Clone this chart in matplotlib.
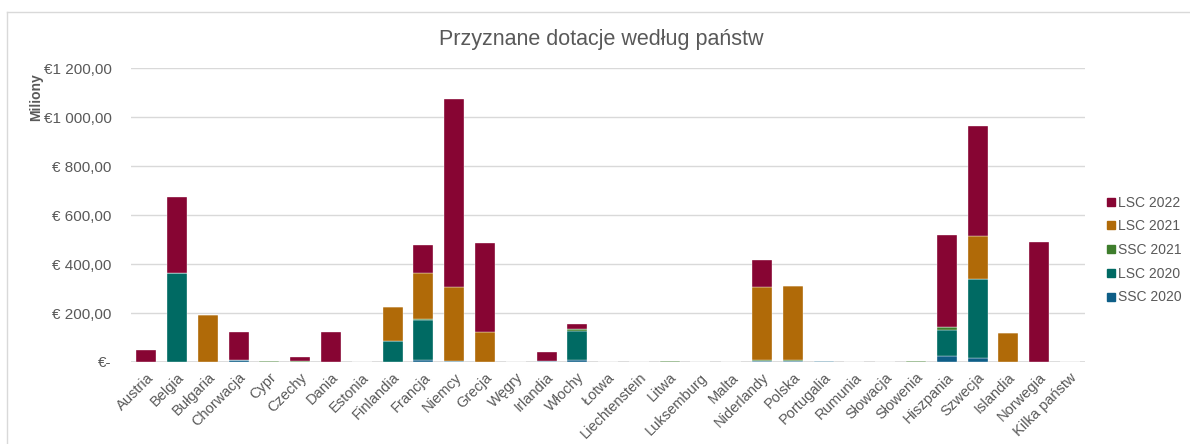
import matplotlib
matplotlib.use('Agg')
import matplotlib.pyplot as plt
from matplotlib.lines import Line2D
import numpy as np

plt.rcParams['font.family'] = ['Liberation Sans', 'DejaVu Sans']

countries = ['Austria', 'Belgia', 'Bułgaria', 'Chorwacja', 'Cypr', 'Czechy', 'Dania',
             'Estonia', 'Finlandia', 'Francja', 'Niemcy', 'Grecja', 'Węgry', 'Irlandia',
             'Włochy', 'Łotwa', 'Liechtenstein', 'Litwa', 'Luksemburg', 'Malta',
             'Niderlandy', 'Polska', 'Portugalia', 'Rumunia', 'Słowacja', 'Słowenia',
             'Hiszpania', 'Szwecja', 'Islandia', 'Norwegia', 'Kilka państw']

# mln EUR
ssc_2020 = [0, 0, 0, 10, 0, 0, 0, 0, 0, 8, 5, 0, 0, 4, 8, 0, 0, 0, 0, 0,
            4, 4, 6, 0, 0, 0, 24, 15, 0, 0, 0]
lsc_2020 = [0, 362, 0, 0, 0, 0, 0, 0, 86, 163, 0, 0, 0, 0, 118, 0, 0, 0, 0, 0,
            0, 0, 0, 0, 0, 0, 107, 324, 0, 0, 0]
ssc_2021 = [0, 0, 0, 0, 6, 5, 0, 0, 0, 3, 0, 0, 0, 0, 10, 0, 0, 6, 0, 0,
            5, 5, 0, 0, 0, 6, 12, 0, 0, 0, 0]
lsc_2021 = [0, 0, 190, 0, 0, 0, 0, 0, 138, 188, 300, 124, 0, 0, 0, 0, 0, 0, 0, 0,
            296, 301, 0, 0, 0, 0, 0, 175, 120, 0, 0]
lsc_2022 = [48, 310, 0, 114, 0, 14, 124, 0, 0, 114, 767, 362, 0, 38, 18, 0, 0, 0, 0, 0,
            110, 0, 0, 0, 0, 0, 376, 449, 0, 491, 0]

series = [('SSC 2020', ssc_2020, '#0E5E87'),
          ('LSC 2020', lsc_2020, '#006A63'),
          ('SSC 2021', ssc_2021, '#3E7D2C'),
          ('LSC 2021', lsc_2021, '#B06A08'),
          ('LSC 2022', lsc_2022, '#870533')]

fig = plt.figure(figsize=(11.9, 4.44), dpi=100)
ax = fig.add_axes([0.110, 0.1847, 0.802, 0.662])

x = np.arange(len(countries))
bottom = np.zeros(len(countries))
for name, vals, col in series:
    vals = np.array(vals, dtype=float)
    ax.bar(x, vals, 0.65, bottom=bottom, color=col, edgecolor='white',
           linewidth=0.25, label=name, zorder=3)
    bottom += vals

ax.set_xlim(-0.5, len(countries) - 0.5)
ax.set_ylim(0, 1200)
ticks = [0, 200, 400, 600, 800, 1000, 1200]
labels = ['€-', '€ 200,00', '€ 400,00', '€ 600,00', '€ 800,00', '€1 000,00', '€1 200,00']
ax.set_yticks(ticks)
ax.set_yticklabels(labels)
ax.yaxis.grid(True, color='#D9D9D9', linewidth=1, zorder=0)
for s in ax.spines.values():
    s.set_visible(False)
ax.axhline(0, color='#D9D9D9', linewidth=1.2, zorder=1)
ax.tick_params(axis='both', length=0, colors='#595959', labelsize=11)
ax.tick_params(axis='y', pad=14)
ax.set_xticks(x)
ax.set_xticklabels(countries, rotation=45, ha='right', rotation_mode='anchor')
ax.tick_params(axis='x', pad=6, labelsize=10.5)

fig.text(0.505, 0.912, 'Przyznane dotacje według państw', ha='center', va='center',
         fontsize=15.5, color='#595959')
fig.text(0.030, 0.782, 'Miliony', rotation=90, ha='center', va='center',
         fontsize=10, color='#595959', fontweight='bold')

handles = [Line2D([], [], marker='s', linestyle='', markersize=6, color=c)
           for _, _, c in series[::-1]]
names = [n for n, _, _ in series[::-1]]
fig.legend(handles, names, loc='center left', bbox_to_anchor=(0.917, 0.437),
           frameon=False, fontsize=10, labelcolor='#595959', handletextpad=0.05,
           labelspacing=0.7, handlelength=1.0)

# outer chart border
fig.add_artist(Line2D([7 / 1190, 1], [1 - 12 / 444, 1 - 12 / 444], color='#D9D9D9', lw=1))
fig.add_artist(Line2D([7 / 1190, 7 / 1190], [0, 1 - 12 / 444], color='#D9D9D9', lw=1))

fig.savefig('out.png', dpi=100)
